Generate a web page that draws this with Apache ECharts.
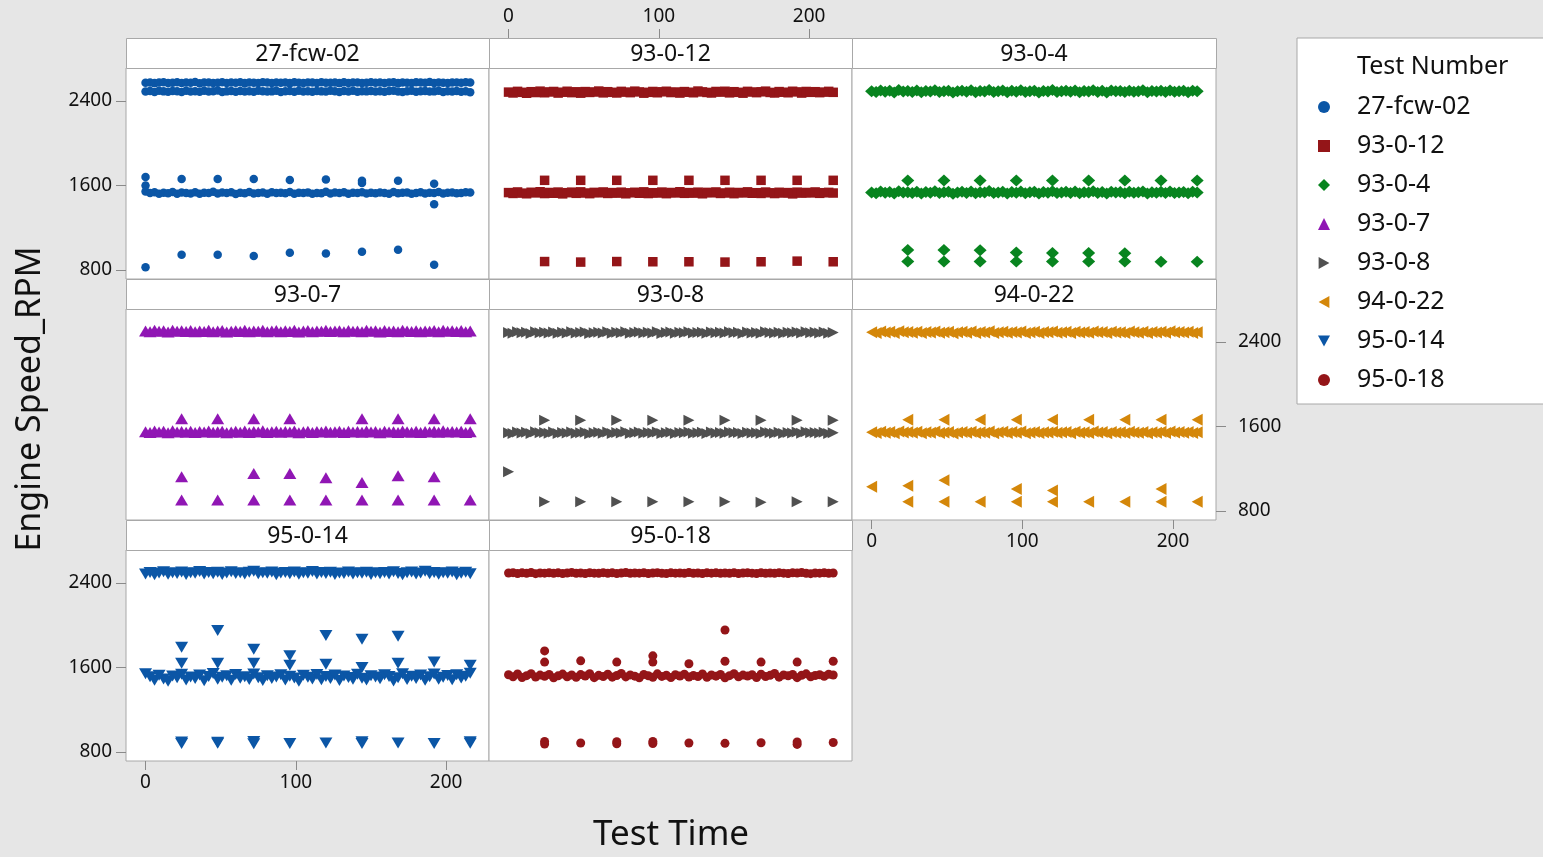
<!DOCTYPE html>
<html>
<head>
<meta charset="utf-8">
<script src="https://cdn.jsdelivr.net/npm/echarts@6/dist/echarts.min.js"></script>
<style>
  html, body { margin: 0; padding: 0; background: #e6e6e6; }
  #main { width: 1543px; height: 857px; }
</style>
</head>
<body>
<div id="main"></div>
<script>
// sample times shared by the dense bands
const denseTime = [0,3,6,9,12,15,18,21,24,27,30,33,36,39,42,45,48,51,54,57,60,63,66,69,72,75,78,81,
  84,87,90,93,96,99,102,105,108,111,114,117,120,123,126,129,132,135,138,141,144,147,150,153,156,159,
  162,165,168,171,174,177,180,183,186,189,192,195,198,201,204,207,210,213,216];

const testNames = ['27-fcw-02','93-0-12','93-0-4','93-0-7','93-0-8','94-0-22','95-0-14','95-0-18'];
const timeTicks = [0, 100, 200];
const rpmTicks = [800, 1600, 2400];

// 27-fcw-02
const fcwHighA = [2570,2574,2567,2572,2576,2569,2571,2575,2568,2573,2570,2577,
  2566,2572,2574,2569,2571,2575,2568,2572,2570,2576,2567,2573,
  2571,2569,2575,2572,2568,2574,2570,2573,2567,2576,2571,2569,
  2574,2572,2568,2575,2570,2571,2573,2567,2576,2569,2572,2574,
  2568,2571,2575,2570,2572,2569,2573,2576,2567,2574,2571,2568,
  2575,2572,2570,2577,2569,2573,2571,2568,2574,2572,2570,2575,
  2573];
const fcwHighB = [2488,2492,2484,2495,2489,2486,2493,2490,2483,2496,2488,2491,
  2485,2494,2487,2490,2497,2484,2489,2492,2486,2493,2488,2490,
  2485,2495,2491,2487,2489,2494,2483,2490,2492,2486,2496,2488,
  2491,2485,2493,2489,2487,2494,2490,2484,2492,2488,2495,2486,
  2491,2489,2493,2487,2490,2485,2492,2496,2488,2483,2491,2494,
  2486,2490,2493,2487,2489,2495,2484,2491,2488,2492,2486,2490,
  2480];
const fcwLow = [1542,1528,1535,1520,1531,1526,1538,1522,1533,1529,1524,1536,
  1521,1530,1527,1540,1523,1532,1528,1535,1519,1531,1526,1537,
  1524,1529,1533,1521,1536,1527,1530,1525,1538,1522,1531,1528,
  1534,1520,1529,1526,1539,1523,1532,1527,1535,1521,1530,1528,
  1536,1524,1531,1526,1533,1529,1522,1537,1525,1530,1534,1520,
  1528,1535,1523,1531,1527,1538,1524,1530,1533,1526,1529,1536,
  1532];
const fcwSpikes = [[0,1680],[0,1600],[0,825],[24,1660],[24,944],[48,1660],[48,944],[72,1660],[72,932],
  [96,1650],[96,963],[120,1656],[120,956],[144,1644],[144,1622],[144,972],[168,1644],[168,991],
  [192,1616],[192,1421],[192,850]];

// 93-0-12
const r12High = [2482,2474,2489,2480,2471,2486,2478,2491,2476,2484,2488,2473,
  2481,2490,2477,2485,2472,2487,2479,2483,2492,2475,2486,2480,
  2474,2489,2482,2477,2491,2484,2472,2480,2488,2476,2485,2490,
  2478,2483,2473,2487,2481,2476,2492,2484,2479,2474,2488,2482,
  2490,2475,2486,2480,2472,2489,2483,2477,2485,2491,2479,2474,
  2487,2481,2476,2490,2484,2473,2488,2480,2486,2477,2482,2489,
  2480];
const r12Low = [1532,1524,1538,1527,1521,1535,1529,1540,1523,1533,1526,1537,
  1520,1531,1536,1525,1539,1528,1522,1534,1530,1538,1524,1532,
  1527,1536,1521,1530,1535,1526,1539,1523,1531,1528,1537,1522,
  1533,1529,1540,1525,1532,1527,1536,1521,1534,1530,1538,1524,
  1528,1535,1522,1533,1529,1539,1526,1531,1524,1537,1530,1523,
  1535,1528,1532,1520,1536,1527,1533,1529,1538,1525,1531,1534,
  1528];
const r12Spikes = [[24,1648],[24,880],[48,1648],[48,875],[72,1648],[72,880],[96,1648],[96,878],
  [120,1648],[120,878],[144,1648],[144,875],[168,1648],[168,878],[192,1648],[192,884],[216,1648],[216,878]];

// 93-0-4
const g4High = [2490,2482,2498,2486,2494,2479,2501,2488,2492,2484,2497,2480,
  2493,2487,2500,2483,2491,2496,2478,2489,2495,2485,2499,2481,
  2492,2488,2502,2484,2490,2497,2480,2494,2486,2499,2482,2491,
  2496,2479,2493,2487,2501,2483,2490,2495,2485,2498,2481,2492,
  2488,2500,2484,2494,2479,2497,2489,2493,2482,2496,2486,2491,
  2499,2480,2492,2487,2495,2483,2498,2485,2490,2494,2481,2496,
  2489];
const g4Low = [1534,1526,1542,1530,1538,1523,1545,1532,1536,1528,1541,1524,
  1537,1531,1544,1527,1535,1540,1522,1533,1539,1529,1543,1525,
  1536,1532,1546,1528,1534,1541,1524,1538,1530,1543,1526,1535,
  1540,1523,1537,1531,1545,1527,1534,1539,1529,1542,1525,1536,
  1532,1544,1528,1538,1523,1541,1533,1537,1526,1540,1530,1535,
  1543,1524,1536,1531,1539,1527,1542,1529,1534,1538,1525,1540,
  1532];
const g4Spikes = [[24,1647],[24,990],[24,880],[48,1647],[48,990],[48,880],[72,1647],[72,988],[72,880],
  [96,1647],[96,965],[96,880],[120,1647],[120,962],[120,880],[144,1647],[144,962],[144,880],
  [168,1647],[168,958],[168,880],[192,1647],[192,878],[216,1647],[216,878]];

// 93-0-7
const p7High = [2502,2495,2508,2499,2505,2493,2510,2500,2504,2497,2507,2494,
  2503,2498,2509,2496,2501,2506,2492,2500,2505,2497,2508,2495,
  2503,2499,2510,2494,2502,2507,2496,2504,2498,2509,2493,2501,
  2506,2495,2503,2500,2508,2497,2502,2505,2494,2507,2499,2503,
  2496,2509,2500,2504,2493,2506,2498,2502,2495,2508,2501,2497,
  2505,2494,2503,2499,2507,2496,2510,2500,2504,2498,2506,2495,
  2502];
const p7Low = [1550,1543,1556,1547,1553,1541,1558,1548,1552,1545,1555,1542,
  1551,1546,1557,1544,1549,1554,1540,1548,1553,1545,1556,1543,
  1551,1547,1558,1542,1550,1555,1544,1552,1546,1557,1541,1549,
  1554,1543,1551,1548,1556,1545,1550,1553,1542,1555,1547,1551,
  1544,1557,1548,1552,1541,1554,1546,1550,1543,1556,1549,1545,
  1553,1542,1551,1547,1555,1544,1558,1548,1552,1546,1554,1543,
  1550];
const p7Spikes = [[24,1673],[48,1673],[72,1673],[96,1673],[144,1673],[168,1673],[192,1673],[216,1673],
  [24,1124],[72,1155],[96,1155],[120,1114],[144,1070],[168,1133],[192,1124],
  [24,904],[48,904],[72,904],[96,904],[120,904],[144,904],[168,904],[192,904],[216,904]];

// 93-0-8
const k8High = [2488,2481,2494,2485,2491,2479,2496,2486,2490,2483,2493,2480,
  2489,2484,2495,2482,2487,2492,2478,2486,2491,2483,2494,2481,
  2489,2485,2496,2480,2488,2493,2482,2490,2484,2495,2479,2487,
  2492,2481,2489,2486,2494,2483,2488,2491,2480,2493,2485,2489,
  2482,2495,2486,2490,2479,2492,2484,2488,2481,2494,2487,2483,
  2491,2480,2489,2485,2493,2482,2496,2486,2490,2484,2492,2481,
  2488];
const k8Low = [1541,1534,1547,1538,1544,1532,1549,1539,1543,1536,1546,1533,
  1542,1537,1548,1535,1540,1545,1531,1539,1544,1536,1547,1534,
  1542,1538,1549,1533,1541,1546,1535,1543,1537,1548,1532,1540,
  1545,1534,1542,1539,1547,1536,1541,1544,1533,1546,1538,1542,
  1535,1548,1539,1543,1532,1545,1537,1541,1534,1547,1540,1536,
  1544,1533,1542,1538,1546,1535,1549,1539,1543,1537,1545,1534,
  1541];
const k8Spikes = [[0,1171],[24,1657],[48,1657],[72,1657],[96,1657],[120,1657],[144,1657],[168,1657],[192,1657],[216,1657],
  [24,888],[48,888],[72,888],[96,888],[120,888],[144,888],[168,884],[192,888],[216,888]];

// 94-0-22
const o22High = [2491,2484,2497,2488,2494,2482,2499,2489,2493,2486,2496,2483,
  2492,2487,2498,2485,2490,2495,2481,2489,2494,2486,2497,2484,
  2492,2488,2499,2483,2491,2496,2485,2493,2487,2498,2482,2490,
  2495,2484,2492,2489,2497,2486,2491,2494,2483,2496,2488,2492,
  2485,2498,2489,2493,2482,2495,2487,2491,2484,2497,2490,2486,
  2494,2483,2492,2488,2496,2485,2499,2489,2493,2487,2495,2484,
  2491];
const o22Low = [1544,1537,1550,1541,1547,1535,1552,1542,1546,1539,1549,1536,
  1545,1540,1551,1538,1543,1548,1534,1542,1547,1539,1550,1537,
  1545,1541,1552,1536,1544,1549,1538,1546,1540,1551,1535,1543,
  1548,1537,1545,1542,1550,1539,1544,1547,1536,1549,1541,1545,
  1538,1551,1542,1546,1535,1548,1540,1544,1537,1550,1543,1539,
  1547,1536,1545,1541,1549,1538,1552,1542,1546,1540,1548,1537,
  1544];
const o22Spikes = [[24,1663],[48,1663],[72,1663],[96,1663],[120,1663],[144,1663],[168,1663],[192,1663],[216,1663],
  [0,1030],[24,1039],[48,1092],[96,1007],[120,995],[192,1007],
  [24,888],[48,888],[72,888],[96,888],[120,888],[144,888],[168,888],[192,888],[216,888]];

// 95-0-14
const b14High = [2484,2498,2476,2492,2505,2481,2495,2488,2502,2478,2494,2490,
  2507,2483,2497,2486,2500,2479,2493,2504,2487,2496,2482,2499,
  2510,2485,2494,2489,2503,2477,2492,2498,2486,2501,2480,2495,
  2491,2506,2484,2497,2488,2500,2479,2493,2487,2502,2483,2496,
  2490,2499,2478,2494,2485,2497,2482,2504,2488,2476,2495,2501,
  2483,2492,2508,2486,2497,2480,2494,2489,2503,2477,2491,2499,
  2485];
const b14Low = [1540,1512,1478,1525,1490,1468,1518,1502,1535,1482,1510,1495,
  1528,1474,1515,1543,1488,1506,1520,1479,1532,1498,1512,1485,
  1538,1502,1476,1522,1494,1509,1530,1481,1517,1499,1470,1526,
  1507,1490,1534,1483,1513,1496,1527,1475,1519,1504,1488,1536,
  1498,1480,1522,1509,1492,1530,1515,1472,1503,1541,1486,1517,
  1494,1528,1478,1511,1537,1489,1506,1523,1484,1531,1500,1516,
  1545];
const b14Spikes = [[24,1791],[24,1640],[48,1948],[48,1640],[72,1772],[72,1640],[96,1709],[96,1620],
  [120,1901],[120,1630],[144,1866],[144,1600],[168,1895],[168,1640],[192,1650],[216,1620],
  [24,880],[24,895],[48,882],[48,892],[72,878],[72,900],[96,880],[120,885],[144,880],[144,898],
  [168,885],[192,880],[216,884],[216,896]];

// 95-0-18
const r18High = [2492,2496,2488,2494,2490,2497,2486,2493,2491,2495,2489,2494,
  2487,2492,2498,2490,2493,2488,2495,2491,2489,2496,2490,2494,
  2487,2492,2497,2489,2493,2491,2495,2488,2492,2496,2490,2487,
  2494,2491,2493,2489,2497,2490,2492,2488,2495,2491,2494,2489,
  2493,2490,2496,2488,2492,2494,2491,2487,2495,2490,2493,2489,
  2496,2491,2488,2494,2492,2497,2490,2486,2493,2491,2495,2489,
  2492];
const r18Low = [1530,1512,1538,1505,1522,1541,1509,1527,1516,1534,1502,1520,
  1537,1511,1528,1506,1532,1518,1540,1503,1525,1514,1535,1508,
  1523,1542,1510,1529,1517,1501,1533,1521,1507,1539,1515,1526,
  1504,1531,1519,1536,1509,1524,1513,1538,1506,1528,1517,1533,
  1502,1522,1540,1511,1527,1518,1531,1505,1536,1514,1525,1543,
  1508,1529,1520,1534,1503,1526,1539,1512,1523,1530,1516,1535,
  1528];
const r18Spikes = [[24,1756],[24,1650],[48,1662],[72,1650],[96,1709],[96,1650],[120,1634],[144,1954],[144,1658],
  [168,1650],[192,1650],[216,1658],
  [24,875],[24,900],[48,885],[72,878],[72,898],[96,880],[96,900],[120,885],[144,882],[168,888],
  [192,872],[192,895],[216,890]];

const FONT = 'Noto Sans';
const colors = ['#0b56a6','#941518','#08841f','#9016b4','#505050','#d4870a','#0b56a6','#941518'];
const symbols = ['circle','rect','path://M5,0L10,5L5,10L0,5Z','triangle',
  'path://M0,0L9,5L0,10Z','path://M9,0L0,5L9,10Z','path://M0,0L10,0L5,9Z','circle'];
const symbolSizes = [8.5, 9.5, [13, 12], [13, 11], [11, 11], [11, 12], [13, 11], 9];
const panelData = [
  [[fcwHighA, fcwHighB, fcwLow], fcwSpikes],
  [[r12High, r12Low], r12Spikes],
  [[g4High, g4Low], g4Spikes],
  [[p7High, p7Low], p7Spikes],
  [[k8High, k8Low], k8Spikes],
  [[o22High, o22Low], o22Spikes],
  [[b14High, b14Low], b14Spikes],
  [[r18High, r18Low], r18Spikes]
];

// facet layout
const colLeft = [126, 489, 852];
const colWidth = [363, 363, 364];
const rowTop = [38, 279, 520];
const stripH = 30;
const plotH = 211;

const grids = [], xAxes = [], yAxes = [], series = [], graphics = [];

const tickStyle = { lineStyle: { color: '#8a8a8a', width: 1 } };
const labelStyle = { color: '#111', fontSize: 19, fontFamily: FONT, formatter: v => String(v) };

testNames.forEach((name, i) => {
  const r = Math.floor(i / 3), c = i % 3;
  const left = colLeft[c], w = colWidth[c];
  grids.push({
    left: left, top: rowTop[r] + stripH, width: w, height: plotH,
    show: true, backgroundColor: '#fff', borderColor: '#a8a8a8', borderWidth: 1,
    containLabel: false, outerBoundsMode: 'none'
  });

  // which edge carries labels
  const xPos = i === 1 ? 'top' : 'bottom';
  const xShow = i === 1 || i === 5 || i === 6;
  const yPos = i === 5 ? 'right' : 'left';
  const yShow = i === 0 || i === 5 || i === 6;

  xAxes.push({
    type: 'value', gridIndex: i, min: -13, max: 228.5, position: xPos,
    offset: i === 1 ? stripH : 0,
    splitLine: { show: false }, axisLine: { show: false, onZero: false },
    axisTick: Object.assign({ show: xShow, length: 9, customValues: timeTicks }, tickStyle),
    axisLabel: Object.assign({ show: xShow, margin: 12, customValues: timeTicks }, labelStyle)
  });
  yAxes.push({
    type: 'value', gridIndex: i, min: 715, max: 2710, position: yPos,
    splitLine: { show: false }, axisLine: { show: false, onZero: false },
    axisTick: Object.assign({ show: yShow, length: 10, customValues: rpmTicks }, tickStyle),
    axisLabel: Object.assign({ show: yShow, margin: yPos === 'right' ? 22 : 14, customValues: rpmTicks }, labelStyle)
  });

  const bands = panelData[i][0], spikes = panelData[i][1];
  let data = [];
  bands.forEach(b => {
    denseTime.forEach((t, k) => { if (b[k] !== undefined) data.push([t, b[k]]); });
  });
  data = data.concat(spikes);

  series.push({
    name: name, type: 'scatter', xAxisIndex: i, yAxisIndex: i,
    symbol: symbols[i], symbolSize: symbolSizes[i],
    itemStyle: { color: colors[i], opacity: 1 },
    emphasis: { disabled: true },
    data: data
  });

  // panel strip with the test name
  graphics.push({
    type: 'rect', silent: true,
    shape: { x: left + 0.5, y: rowTop[r] + 0.5, width: w, height: stripH },
    style: { fill: '#fff', stroke: '#a8a8a8', lineWidth: 1 }
  });
  graphics.push({
    type: 'text', silent: true,
    x: left + w / 2, y: rowTop[r] + stripH / 2 + 1,
    style: { text: name, fill: '#111', fontSize: 23, fontFamily: FONT, align: 'center', verticalAlign: 'middle' }
  });
});

graphics.push({
  type: 'text', silent: true, x: 30, y: 399, rotation: Math.PI / 2,
  style: { text: 'Engine Speed_RPM', fill: '#111', fontSize: 34, fontFamily: FONT, align: 'center', verticalAlign: 'middle' }
});
graphics.push({
  type: 'text', silent: true, x: 671, y: 835,
  style: { text: 'Test Time', fill: '#111', fontSize: 35, fontFamily: FONT, align: 'center', verticalAlign: 'middle' }
});
graphics.push({
  type: 'text', silent: true, z: 100, x: 1357, y: 67,
  style: { text: 'Test Number', fill: '#111', fontSize: 25, fontFamily: FONT, align: 'left', verticalAlign: 'middle' }
});

const chart = echarts.init(document.getElementById('main'), null, { renderer: 'canvas' });
chart.setOption({
  backgroundColor: '#e6e6e6',
  animation: false,
  textStyle: { fontFamily: FONT },
  grid: grids,
  xAxis: xAxes,
  yAxis: yAxes,
  legend: {
    data: testNames,
    orient: 'vertical',
    left: 1297, top: 38,
    padding: [56, 90, 11, 21],
    backgroundColor: '#fff', borderColor: '#a8a8a8', borderWidth: 1,
    itemWidth: 12, itemHeight: 12, itemGap: 13,
    selectedMode: false,
    textStyle: { fontSize: 25, lineHeight: 26, color: '#111', fontFamily: FONT, padding: [0, 0, 0, 22] }
  },
  graphic: graphics,
  series: series
});
</script>
</body>
</html>
